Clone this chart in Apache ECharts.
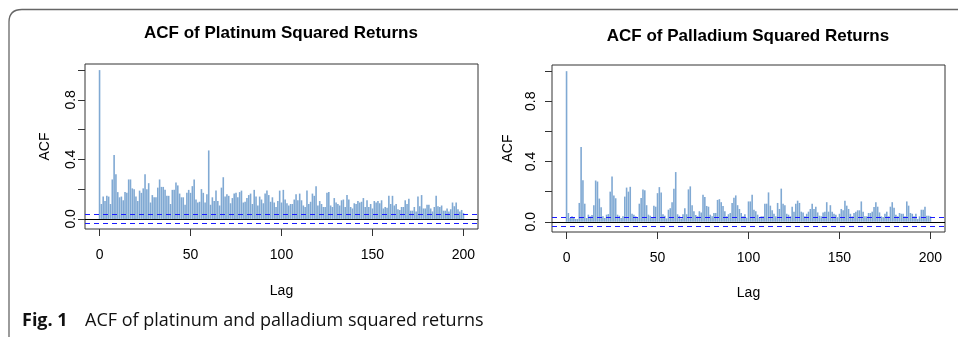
<!DOCTYPE html>
<html>
<head>
<meta charset="utf-8">
<script src="https://cdn.jsdelivr.net/npm/echarts@6/dist/echarts.min.js"></script>
<style>
html,body{margin:0;padding:0;background:#fff;}
#c{width:958px;height:337px;}
</style>
</head>
<body>
<div id="c"></div>
<script>
// ---- data ----
const lags = Array.from({length: 201}, (_, i) => i);
const platinumACF = [
1.00,0.10,0.15,0.12,0.155,0.15,0.10,0.265,0.43,0.30,
0.18,0.145,0.15,0.125,0.18,0.175,0.265,0.265,0.205,0.20,
0.15,0.12,0.19,0.175,0.205,0.30,0.20,0.24,0.11,0.16,
0.145,0.145,0.21,0.265,0.215,0.215,0.195,0.155,0.155,0.10,
0.195,0.195,0.245,0.225,0.17,0.145,0.145,0.095,0.175,0.195,
0.175,0.22,0.265,0.13,0.11,0.115,0.20,0.175,0.11,0.165,
0.46,0.095,0.145,0.12,0.19,0.12,0.09,0.21,0.28,0.15,
0.165,0.155,0.105,0.14,0.17,0.175,0.145,0.18,0.19,0.11,
0.115,0.14,0.16,0.17,0.10,0.195,0.15,0.09,0.15,0.13,
0.105,0.17,0.19,0.16,0.115,0.145,0.11,0.08,0.12,0.19,
0.11,0.195,0.13,0.105,0.09,0.10,0.10,0.13,0.165,0.125,
0.17,0.125,0.09,0.08,0.19,0.10,0.115,0.17,0.155,0.22,
0.09,0.12,0.10,0.08,0.08,0.175,0.18,0.09,0.08,0.14,
0.11,0.10,0.09,0.125,0.13,0.08,0.16,0.13,0.08,0.07,
0.105,0.10,0.12,0.11,0.115,0.14,0.08,0.125,0.08,0.10,
0.07,0.12,0.11,0.12,0.105,0.125,0.07,0.08,0.075,0.155,
0.10,0.155,0.09,0.10,0.065,0.06,0.08,0.08,0.125,0.10,
0.135,0.055,0.055,0.08,0.05,0.15,0.085,0.16,0.07,0.07,
0.095,0.095,0.07,0.05,0.08,0.155,0.085,0.08,0.09,0.055,
0.055,0.07,0.05,0.065,0.11,0.085,0.11,0.065,0.05,0.06,
0.04
];
const palladiumACF = [
1.00,0.058,0.025,0.036,0.025,0.018,0.018,0.125,0.497,0.276,
0.12,0.025,0.047,0.036,0.045,0.11,0.274,0.267,0.154,0.096,
0.036,0.025,0.047,0.051,0.20,0.30,0.174,0.156,0.047,0.04,
0.025,0.036,0.167,0.227,0.20,0.232,0.053,0.047,0.036,0.025,
0.12,0.158,0.214,0.209,0.11,0.047,0.04,0.031,0.107,0.10,
0.19,0.23,0.195,0.05,0.04,0.022,0.08,0.09,0.13,0.22,
0.33,0.05,0.04,0.022,0.05,0.09,0.05,0.215,0.235,0.11,
0.07,0.045,0.036,0.07,0.062,0.18,0.165,0.105,0.10,0.047,
0.036,0.058,0.058,0.145,0.15,0.13,0.105,0.07,0.036,0.05,
0.058,0.125,0.16,0.175,0.11,0.085,0.058,0.036,0.05,0.027,
0.135,0.135,0.18,0.08,0.07,0.047,0.025,0.036,0.036,0.12,
0.12,0.195,0.107,0.076,0.053,0.036,0.125,0.085,0.22,0.12,
0.11,0.053,0.047,0.036,0.10,0.067,0.12,0.14,0.125,0.067,
0.062,0.036,0.053,0.067,0.085,0.12,0.085,0.10,0.062,0.04,
0.036,0.062,0.067,0.13,0.067,0.11,0.067,0.053,0.047,0.031,
0.053,0.085,0.076,0.14,0.107,0.085,0.053,0.036,0.058,0.067,
0.076,0.076,0.135,0.067,0.036,0.036,0.058,0.058,0.067,0.098,
0.13,0.10,0.062,0.036,0.031,0.053,0.067,0.036,0.10,0.13,
0.093,0.047,0.036,0.058,0.053,0.053,0.036,0.135,0.107,0.058,
0.053,0.036,0.053,0.018,0.036,0.08,0.08,0.10,0.04,0.04,
0.036
];
const ciPlatinum = 0.027;
const ciPalladium = 0.027;
const xTicks = [0, 50, 100, 150, 200];
const yTicks = [0, 0.2, 0.4, 0.6, 0.8, 1.0];
const yLabels = [0, 0.4, 0.8];
const titles = ['ACF of Platinum Squared Returns', 'ACF of Palladium Squared Returns'];
const caption = ['Fig. 1', 'ACF of platinum and palladium squared returns'];

// ---- chart ----
const chart = echarts.init(document.getElementById('c'), null, {renderer: 'canvas'});
const FONT = 'Liberation Sans, Arial, sans-serif';
const grids = [
  {left: 85, top: 64, width: 393, height: 165},
  {left: 552, top: 65, width: 393, height: 167}
];
const layout = [
  {ylabMargin: 7, yNameGap: 33, xNameGap: 55, titleX: 281, titleY: 33},
  {ylabMargin: 14, yNameGap: 37, xNameGap: 54, titleX: 748, titleY: 36}
];
function xAx(i) {
  return {
    type: 'value', gridIndex: i, min: -8, max: 208,
    name: 'Lag', nameLocation: 'middle', nameGap: layout[i].xNameGap,
    nameTextStyle: {fontFamily: FONT, fontSize: 14, color: '#000'},
    axisLine: {show: false, onZero: false},
    splitLine: {show: false},
    axisTick: {show: true, inside: false, length: 7, customValues: xTicks, lineStyle: {color: '#333'}},
    axisLabel: {customValues: xTicks, margin: 19, fontFamily: FONT, fontSize: 14, color: '#000'}
  };
}
function yAx(i, mn, mx) {
  return {
    type: 'value', gridIndex: i, min: mn, max: mx,
    name: 'ACF', nameLocation: 'middle', nameGap: layout[i].yNameGap, nameRotate: 90,
    nameTextStyle: {fontFamily: FONT, fontSize: 14, color: '#000'},
    axisLine: {show: false, onZero: false},
    splitLine: {show: false},
    axisTick: {show: true, inside: false, length: 7, customValues: yTicks, lineStyle: {color: '#333'}},
    axisLabel: {customValues: yLabels, rotate: 90, margin: layout[i].ylabMargin, fontFamily: FONT, fontSize: 14, color: '#000',
      formatter: v => Number(v).toFixed(1)}
  };
}
function barSer(i, data) {
  return {
    type: 'bar', xAxisIndex: i, yAxisIndex: i,
    data: lags.map((l, k) => [l, data[k]]),
    barWidth: 1.6,
    itemStyle: {color: '#80a9d3'},
    silent: true,
    animation: false
  };
}
function ciSer(i, ci) {
  return {
    type: 'line', xAxisIndex: i, yAxisIndex: i, data: [], silent: true,
    markLine: {
      silent: true, symbol: 'none', animation: false,
      label: {show: false},
      lineStyle: {color: '#1a1aff', type: [5, 4], width: 1, opacity: 1},
      emphasis: {disabled: true},
      data: [{yAxis: ci}, {yAxis: -ci}]
    }
  };
}
function zeroSer(i) {
  return {
    type: 'line', xAxisIndex: i, yAxisIndex: i, data: [], silent: true,
    markLine: {
      silent: true, symbol: 'none', animation: false,
      label: {show: false},
      lineStyle: {color: '#000', type: 'solid', width: 1, opacity: 1},
      emphasis: {disabled: true},
      data: [{yAxis: 0}]
    }
  };
}
chart.setOption({
  backgroundColor: '#fff',
  animation: false,
  grid: grids.map(g => Object.assign({show: true, borderColor: '#333', borderWidth: 1, backgroundColor: 'transparent', containLabel: false}, g)),
  xAxis: [xAx(0), xAx(1)],
  yAxis: [yAx(0, -0.068, 1.041), yAx(1, -0.068, 1.041)],
  series: [barSer(0, platinumACF), zeroSer(0), ciSer(0, ciPlatinum),
           barSer(1, palladiumACF), zeroSer(1), ciSer(1, ciPalladium)],
  graphic: [
    {type: 'polyline', shape: {points: [[9, 337], [9, 22]]},
     style: {fill: null, stroke: '#666', lineWidth: 1.3}},
    {type: 'bezierCurve', shape: {x1: 9, y1: 22, cpx1: 9, cpy1: 9.5, x2: 22, y2: 9.5},
     style: {fill: null, stroke: '#666', lineWidth: 1.3}},
    {type: 'polyline', shape: {points: [[22, 9.5], [958, 9.5]]},
     style: {fill: null, stroke: '#666', lineWidth: 1.3}},
    {type: 'text', x: layout[0].titleX, y: layout[0].titleY,
     style: {text: titles[0], font: 'bold 17px "Liberation Sans", Arial, sans-serif', fill: '#000', align: 'center', verticalAlign: 'middle'}},
    {type: 'text', x: layout[1].titleX, y: layout[1].titleY,
     style: {text: titles[1], font: 'bold 17px "Liberation Sans", Arial, sans-serif', fill: '#000', align: 'center', verticalAlign: 'middle'}},
    {type: 'text', left: 22, top: 312,
     style: {text: caption[0], font: 'bold 18px "Open Sans", "Noto Sans", sans-serif', fill: '#111'}},
    {type: 'text', left: 85, top: 312,
     style: {text: caption[1], font: '18px "Open Sans", "Noto Sans", sans-serif', fill: '#111'}}
  ]
});
</script>
</body>
</html>
